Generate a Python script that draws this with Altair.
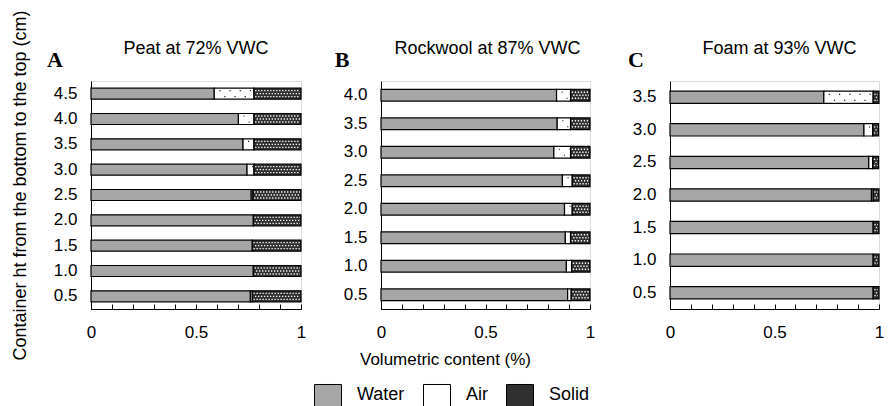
import altair as alt
import pandas as pd

# ---------------- data ----------------
components = ["Water", "Air", "Solid"]
titles = ["Peat at 72% VWC", "Rockwool at 87% VWC", "Foam at 93% VWC"]
letters = ["A", "B", "C"]

heights_a = ["4.5", "4.0", "3.5", "3.0", "2.5", "2.0", "1.5", "1.0", "0.5"]
water_a = [0.587, 0.702, 0.724, 0.743, 0.763, 0.773, 0.768, 0.773, 0.759]
air_a = [0.189, 0.074, 0.052, 0.033, 0.008, 0.0, 0.0, 0.0, 0.009]
solid_a = [0.224, 0.224, 0.224, 0.224, 0.229, 0.227, 0.232, 0.227, 0.232]

heights_b = ["4.0", "3.5", "3.0", "2.5", "2.0", "1.5", "1.0", "0.5"]
water_b = [0.840, 0.843, 0.827, 0.868, 0.878, 0.882, 0.887, 0.893]
air_b = [0.067, 0.064, 0.080, 0.047, 0.037, 0.025, 0.025, 0.017]
solid_b = [0.093, 0.093, 0.093, 0.085, 0.085, 0.093, 0.088, 0.090]

heights_c = ["3.5", "3.0", "2.5", "2.0", "1.5", "1.0", "0.5"]
water_c = [0.736, 0.928, 0.951, 0.964, 0.972, 0.972, 0.972]
air_c = [0.236, 0.042, 0.019, 0.008, 0.0, 0.0, 0.0]
solid_c = [0.028, 0.028, 0.028, 0.028, 0.028, 0.028, 0.028]

x_tick_values = [0, 0.1, 0.2, 0.3, 0.4, 0.5, 0.6, 0.7, 0.8, 0.9, 1]

FONT = "Liberation Sans"
COLORS = ["#a6a6a6", "#ffffff", "#303030"]


def build(heights, water, air, solid):
    rows = []
    for h, w, a, s in zip(heights, water, air, solid):
        start = 0.0
        for comp, v in zip(components, [w, a, s]):
            if v > 0:
                rows.append({"height": h, "component": comp, "start": start, "end": start + v})
            start += v
    return pd.DataFrame(rows)


def panel(i, heights, water, air, solid, width, bar_size):
    df = build(heights, water, air, solid)
    base = alt.Chart(df)

    if i == 0:
        y_axis = alt.Axis(
            title="Container ht from the bottom to the top (cm)",
            titleFontSize=18, titleFont=FONT, titleFontWeight="normal", titleColor="black",
            titleAngle=270, titleX=-66, titleY=104, titleAlign="center", titleBaseline="alphabetic",
            ticks=False, tickSize=0, labelPadding=14, labelFontSize=17, labelFont=FONT,
            labelColor="black", domainColor="black", domainWidth=1, grid=False,
        )
    else:
        y_axis = alt.Axis(
            title=None, ticks=False, tickSize=0, labelPadding=14, labelFontSize=17, labelFont=FONT,
            labelColor="black", domainColor="black", domainWidth=1, grid=False,
        )

    x_kwargs = dict(
        values=x_tick_values,
        labelExpr="datum.value == 0 ? '0' : (abs(datum.value - 0.5) < 0.001 ? '0.5' : (datum.value == 1 ? '1' : ''))",
        ticks=False, tickSize=0, labelPadding=15, labelFontSize=17, labelFont=FONT, labelColor="black",
        domainColor="black", domainWidth=1,
        grid=True, gridColor="black", gridOpacity=1, gridWidth=1, gridDash=[5, 1000],
        labelFlush=False,
    )
    if i == 1:
        x_axis = alt.Axis(
            title="Volumetric content (%)", titleFontSize=17, titleFont=FONT, titleFontWeight="normal",
            titleColor="black", titleX=64, titleY=55, titleAlign="center", titleBaseline="alphabetic",
            **x_kwargs,
        )
    else:
        x_axis = alt.Axis(title=None, **x_kwargs)

    y_enc = alt.Y("height:N", sort=heights,
                  scale=alt.Scale(domain=heights, paddingInner=0, paddingOuter=0),
                  axis=y_axis)
    x_enc = alt.X("start:Q", scale=alt.Scale(domain=[0, 1], nice=False, zero=True), axis=x_axis)
    color_enc = alt.Color(
        "component:N",
        scale=alt.Scale(domain=components, range=COLORS),
        legend=alt.Legend(
            title=None, orient="none", legendX=223, legendY=300, direction="horizontal",
            symbolType="M-1,-0.815H1V0.815H-1Z", symbolSize=729,
            symbolStrokeColor="black", symbolStrokeWidth=1, symbolOpacity=1,
            labelFontSize=18, labelFont=FONT, labelColor="black",
            labelOffset=15, columnPadding=16, padding=0,
        ),
    )

    bars = base.mark_bar(size=bar_size, stroke="black", strokeWidth=1.2, opacity=1).encode(
        y=y_enc, x=x_enc, x2="end:Q", color=color_enc
    )

    layers = [bars]
    # dotted texture for Solid (white dots on dark)
    solid_base = base.transform_filter(alt.datum.component == "Solid")
    for k, off in enumerate([-3, 0, 3]):
        layers.append(
            solid_base.mark_rule(stroke="white", strokeWidth=1.3, strokeDash=[1.3, 1.7],
                                 strokeDashOffset=(0 if k % 2 == 0 else 1.5),
                                 yOffset=off, xOffset=1.2, x2Offset=-1).encode(
                y=y_enc, x=x_enc, x2="end:Q"
            )
        )
    # sparse dots for Air
    air_base = base.transform_filter(alt.datum.component == "Air")
    for k, off in enumerate([-3, 3]):
        layers.append(
            air_base.mark_rule(stroke="#222222", strokeWidth=1.2, strokeDash=[1.2, 9],
                               strokeDashOffset=(-4 if k == 0 else -9),
                               yOffset=off, xOffset=1, x2Offset=-1).encode(
                y=y_enc, x=x_enc, x2="end:Q"
            )
        )

    text_df = pd.DataFrame({"letter": [letters[i]], "title": [titles[i]]})
    letter = alt.Chart(text_df).mark_text(
        font="Liberation Serif", fontWeight="bold", fontSize=22, align="center",
        baseline="alphabetic", color="black"
    ).encode(text="letter:N", x=alt.value([-36, -39, -34][i]), y=alt.value(-14))
    title = alt.Chart(text_df).mark_text(
        font=FONT, fontSize=18, align="center", baseline="alphabetic", color="black"
    ).encode(text="title:N", x=alt.value(width / 2 + [0, 2, 5][i]), y=alt.value(-27))
    layers += [letter, title]

    return alt.layer(*layers).properties(width=width, height=228)


pa = panel(0, heights_a, water_a, air_a, solid_a, 210, 11)
pb = panel(1, heights_b, water_b, air_b, solid_b, 209, 11.7)
pc = panel(2, heights_c, water_c, air_c, solid_c, 209, 12.3)

chart = alt.hconcat(pa, pb, pc, spacing=80, bounds="flush").properties(
    padding={"left": 2, "top": 1, "right": 0, "bottom": 0}
).configure_view(stroke=None).configure(font=FONT)

chart.save("out.html", embed_options={"renderer": "svg", "actions": False})
